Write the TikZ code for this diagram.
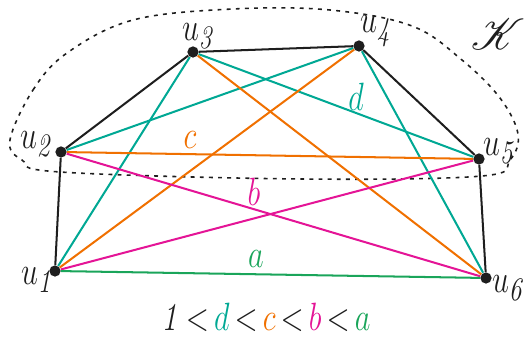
\documentclass[tikz,border=0pt]{standalone}
\usepackage{mathrsfs}
\usepackage{graphicx}
\definecolor{cteal}{RGB}{0,168,148}
\definecolor{corange}{RGB}{240,112,0}
\definecolor{cmag}{RGB}{228,20,150}
\definecolor{cgreen}{RGB}{26,165,90}
\definecolor{cblack}{RGB}{30,30,30}
\newcommand\vstretch[1]{\scalebox{1}[1.3]{#1}}
\newcommand\tlt{\mkern3mu{<}\mkern3mu}
\tikzset{
  vtx/.style={circle,fill=cblack,inner sep=0pt,minimum size=6.4pt},
  vlab/.style={inner sep=0pt,font=\fontsize{19}{21}\selectfont,text=cblack},
  elab/.style={inner sep=0pt,font=\fontsize{19}{21}\selectfont},
  edg/.style={line width=1.15pt},
}
\begin{document}
\begin{tikzpicture}[x=0.02cm,y=-0.02cm]
\useasboundingbox (0,0) rectangle (525,340);
% dashed region
\draw[dash pattern=on 2.2pt off 3pt,line width=0.9pt,cblack] plot[smooth cycle,tension=0.6] coordinates {
 (10,140) (33,90) (67,53) (133,20) (233,9) (330,10) (412,26) (462,60) (500,98) (518,134) (510,160) (482,176) (300,179) (60,172) (22,160)};
% vertices
\node[vtx] (u1) at (55,271) {};
\node[vtx] (u2) at (61,152) {};
\node[vtx] (u3) at (193,52) {};
\node[vtx] (u4) at (359,46) {};
\node[vtx] (u5) at (479,159) {};
\node[vtx] (u6) at (486,278) {};
% edges
\draw[edg,cteal] (u2) -- (u4);
\draw[edg,cteal] (u3) -- (u5);
\draw[edg,cteal] (u1) -- (u3);
\draw[edg,cteal] (u4) -- (u6);
\draw[edg,corange] (u2) -- (u5);
\draw[edg,corange] (u1) -- (u4);
\draw[edg,corange] (u3) -- (u6);
\draw[edg,cmag] (u2) -- (u6);
\draw[edg,cmag] (u1) -- (u5);
\draw[edg,cgreen] (u1) -- (u6);
\draw[edg,cblack] (u1) -- (u2) -- (u3) -- (u4) -- (u5) -- (u6);
% vertex labels
\node[vlab] (l1) at (38,280) {\vstretch{$u_{\mathit{1}}$}};
\node[vlab] (l2) at (37,144) {\vstretch{$u_{\mathit{2}}$}};
\node[vlab] (l3) at (199,36) {\vstretch{$u_{\mathit{3}}$}};
\node[vlab] (l4) at (377,31) {\vstretch{$u_{\mathit{4}}$}};
\node[vlab] (l5) at (500,151) {\vstretch{$u_{\mathit{5}}$}};
\node[vlab] (l6) at (509,288) {\vstretch{$u_{\mathit{6}}$}};
% edge labels
\node[elab,text=cteal] (ld) at (356,97) {\vstretch{$d$}};
\node[elab,text=corange] (lc) at (190,140) {\vstretch{$c$}};
\node[elab,text=cmag] (lb) at (254,192) {\vstretch{$b$}};
\node[elab,text=cgreen] (la) at (256,259) {\vstretch{$a$}};
% K
\node[inner sep=0pt,font=\fontsize{36}{38}\selectfont,text=cblack] (K) at (498,34) {$\mathscr{K}$};
% formula
\node[inner sep=0pt,font=\fontsize{18}{20}\selectfont,text=cblack] (f) at (266,317) {\vstretch{$\mathit{1}\tlt{\color{cteal}d}\tlt{\color{corange}c}\tlt{\color{cmag}b}\tlt{\color{cgreen}a}$}};
\end{tikzpicture}
\end{document}
